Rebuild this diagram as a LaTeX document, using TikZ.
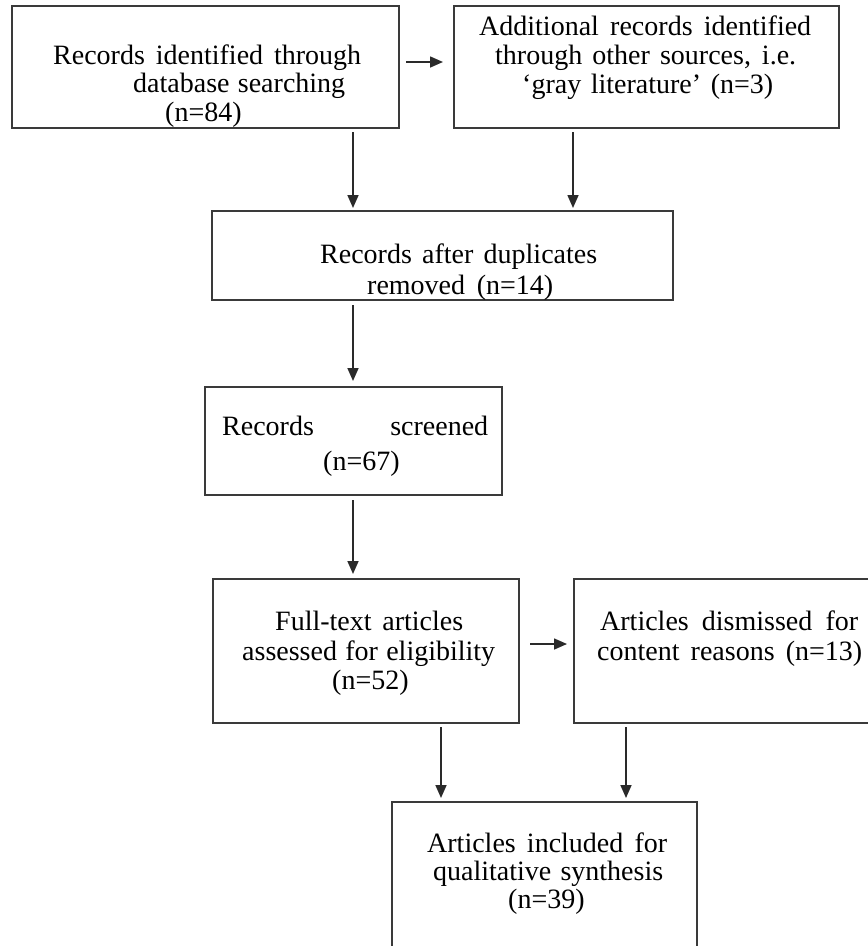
\documentclass[tikz,border=0pt]{standalone}
\usepackage{fontspec}
\setmainfont{Liberation Serif}
\usetikzlibrary{arrows.meta}
\definecolor{boxgray}{HTML}{3A3A3A}
\definecolor{arrgray}{HTML}{2A2A2A}
\begin{document}
\begin{tikzpicture}[x=1pt,y=-1pt,
  box/.style={draw=boxgray, line width=1.8pt, anchor=north west, inner sep=0pt, outer sep=0pt},
  txt/.style={anchor=base west, inner sep=0pt, font=\fontsize{28pt}{32pt}\selectfont},
  arr/.style={draw=arrgray, line width=1.6pt, -{Triangle[length=13pt,width=11pt]}}]
\useasboundingbox (0,0) rectangle (868,946);
\clip (0,0) rectangle (868,946);
\fill[white] (0,0) rectangle (868,946);

% boxes
\node[box, minimum width=387pt, minimum height=122pt] (b1) at (12,6) {};
\node[box, minimum width=385pt, minimum height=122pt] (b2) at (454,6) {};
\node[box, minimum width=461pt, minimum height=89pt] (b3) at (212,211) {};
\node[box, minimum width=297pt, minimum height=108pt] (b4) at (205,387) {};
\node[box, minimum width=306pt, minimum height=144pt] (b5) at (213,579) {};
\node[box, minimum width=320pt, minimum height=144pt] (b6) at (574,579) {};
\node[box, minimum width=305pt, minimum height=180pt] (b7) at (392,802) {};

% texts
\node[txt] (t1a) at (53,64) {\makebox[308pt][s]{Records identified through}};
\node[txt] (t1b) at (133,92) {\makebox[212pt][s]{database searching}};
\node[txt] (t1c) at (165,121) {(n=84)};

\node[txt] (t2a) at (479,35) {\makebox[332pt][s]{Additional records identified}};
\node[txt] (t2b) at (495,64) {\makebox[301pt][s]{through other sources, i.e.}};
\node[txt] (t2c) at (522,93) {\makebox[251pt][s]{‘gray literature’ (n=3)}};

\node[txt] (t3a) at (320,263) {\makebox[277pt][s]{Records after duplicates}};
\node[txt] (t3b) at (367,294) {\makebox[186pt][s]{removed (n=14)}};

\node[txt] (t4a) at (222,435) {\makebox[266pt][s]{Records screened}};
\node[txt] (t4b) at (323,470) {(n=67)};

\node[txt] (t5a) at (275,630) {\makebox[188pt][s]{Full-text articles}};
\node[txt] (t5b) at (242,660) {\makebox[253pt][s]{assessed for eligibility}};
\node[txt] (t5c) at (332,689) {(n=52)};

\node[txt] (t6a) at (600,630) {\makebox[258pt][s]{Articles dismissed for}};
\node[txt] (t6b) at (597,660) {\makebox[265pt][s]{content reasons (n=13)}};

\node[txt] (t7a) at (427,852) {\makebox[240pt][s]{Articles included for}};
\node[txt] (t7b) at (433,880) {\makebox[230pt][s]{qualitative synthesis}};
\node[txt] (t7c) at (508,908) {(n=39)};

% helper coordinates for connector positions
\coordinate (ya) at (0,62);
\coordinate (yb) at (0,644);
\coordinate (xa) at (353,0);
\coordinate (xb) at (573,0);
\coordinate (xc) at (441,0);
\coordinate (xd) at (626,0);

% connectors
\draw[arr, shorten <=7pt, shorten >=11pt] (b1.east |- ya) -- (b2.west |- ya);
\draw[arr, shorten <=4pt, shorten >=3pt] (b1.south -| xa) -- (b3.north -| xa);
\draw[arr, shorten <=4pt, shorten >=3pt] (b2.south -| xb) -- (b3.north -| xb);
\draw[arr, shorten <=5pt, shorten >=6pt] (b3.south -| xa) -- (b4.north -| xa);
\draw[arr, shorten <=5pt, shorten >=5pt] (b4.south -| xa) -- (b5.north -| xa);
\draw[arr, shorten <=11pt, shorten >=7pt] (b5.east |- yb) -- (b6.west |- yb);
\draw[arr, shorten <=4pt, shorten >=4pt] (b5.south -| xc) -- (b7.north -| xc);
\draw[arr, shorten <=4pt, shorten >=4pt] (b6.south -| xd) -- (b7.north -| xd);
\end{tikzpicture}
\end{document}
